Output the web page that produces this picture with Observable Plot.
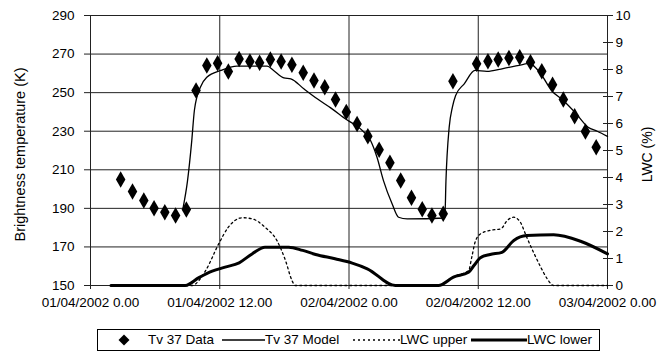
<!DOCTYPE html>
<html><head><meta charset="utf-8">
<script src="https://cdn.jsdelivr.net/npm/d3@7"></script>
<script src="https://cdn.jsdelivr.net/npm/@observablehq/plot@0.6"></script>
<style>
body{margin:0;background:#fff;font-family:"Liberation Sans",Arial,sans-serif;color:#000;}
#wrap{position:relative;width:667px;height:352px;overflow:hidden;}
#legend{position:absolute;left:97px;top:329px;width:503px;height:22px;border:1px solid #000;box-sizing:border-box;font-size:13.5px;}
.li{position:absolute;top:0;height:20px;line-height:20px;white-space:nowrap;}
.sw{position:absolute;top:0;}
</style>
</head><body>
<div id="wrap"><div id="chart"></div><div id="legend"></div></div>
<script>
// ---- data (hours after 01/04/2002 0.00) ----
const dataHours = [2.8,3.9,4.95,5.9,6.9,7.9,8.9,9.8,10.8,11.8,12.8,13.8,14.8,15.7,16.7,17.7,18.7,19.75,20.75,21.75,22.75,23.75,24.75,25.75,26.8,27.8,28.8,29.8,30.8,31.7,32.75,33.65,35.85,36.9,37.85,38.85,39.85,40.85,41.9,42.9,43.9,44.95,45.95,46.95];
const dataTemp  = [205.0,198.7,194.1,190.1,188.0,186.3,189.4,251.1,264.1,265.3,261.0,267.5,266.1,265.5,267.2,266.1,264.4,260.3,256.3,252.8,246.4,240.0,233.8,227.4,220.4,213.6,204.4,195.5,189.6,186.3,187.2,255.9,265.0,266.3,267.2,267.9,268.4,265.8,261.1,254.1,246.4,237.8,229.9,221.7];

const modelHours = [8.6,9.0,9.4,9.65,10.2,10.8,12.1,13.6,16.4,17.0,17.95,18.6,19.8,21.05,22.3,23.8,25.07,26.0,26.6,27.2,28.0,28.6,29.4,32.9,33.0,33.3,33.6,33.9,34.7,35.7,36.8,38.3,40.2,40.7,41.0,41.8,42.8,43.9,45.1,46.2,47.05,48];
const modelTemp  = [190.4,204,225,241,252.8,258,261.5,263.7,263.7,261.5,257.7,257.2,252,246.8,242.1,235.9,231.2,225.2,216.5,204.4,192.4,185.4,184.5,185,204,232,242.5,248.5,254.6,261.5,261,262.5,264.7,265.2,264.5,259.8,251.1,245.9,239,232.1,230,227.3];

const lwcUpperHours = [1.9,9.4,10.7,11.9,12.8,14.1,15.0,16.2,17.3,18.1,18.7,19.0,32.3,33.7,35.1,35.4,35.7,36.2,37.1,38.1,38.7,39.3,39.9,40.5,41.2,41.8,42.4,43.0,48];
const lwcUpper      = [0,0,0.56,1.54,2.16,2.51,2.47,2.16,1.67,0.93,0.19,0,0,0.33,0.55,1.05,1.6,1.91,2.04,2.1,2.41,2.53,2.35,1.79,1.17,0.68,0.25,0,0];

const lwcLowerHours = [1.9,8.8,10.06,11.3,12.5,13.8,15.0,16.2,18.4,19.7,20.9,22.7,24.3,25.7,28.3,32.3,33.7,35.1,35.6,36.2,37.1,38.2,39.3,40.5,43.0,45.5,48];
const lwcLower      = [0,0,0.29,0.53,0.68,0.84,1.17,1.42,1.42,1.30,1.15,0.99,0.83,0.62,0,0,0.31,0.49,0.74,1.03,1.15,1.23,1.67,1.85,1.88,1.64,1.17];

// ---- axes ----
const tempTicks = [150,170,190,210,230,250,270,290];
const lwcTicks = [0,1,2,3,4,5,6,7,8,9,10];
const xTickHours = [0,12,24,36,48];
const xTickLabels = ["01/04/2002 0.00","01/04/2002 12.00","02/04/2002 0.00","02/04/2002 12.00","03/04/2002 0.00"];
const leftTitle = "Brightness temperature (K)";
const rightTitle = "LWC (%)";
const seriesNames = ["Tv 37 Data","Tv 37 Model","LWC upper","LWC lower"];

const base = Date.UTC(2002,3,1);
const t = h => new Date(base + h*3600e3);
const tMin = 150, tMax = 290, lMax = 10;
const lwcToY = v => tMin + v*(tMax - tMin)/lMax;

const dataPts = dataHours.map((h,i)=>({x:t(h), y:dataTemp[i]}));
const modelPts = modelHours.map((h,i)=>({x:t(h), y:modelTemp[i]}));
const upPts = lwcUpperHours.map((h,i)=>({x:t(h), y:lwcToY(lwcUpper[i])}));
const loPts = lwcLowerHours.map((h,i)=>({x:t(h), y:lwcToY(lwcLower[i])}));
const xTicks = xTickHours.map(t);
const lwcTickY = lwcTicks.map(lwcToY);

const plot = Plot.plot({
  width: 667, height: 322,
  marginLeft: 90, marginRight: 60, marginTop: 15, marginBottom: 37,
  style: {fontFamily: "'Liberation Sans', Arial, sans-serif", fontSize: "13.5px", color: "#000", background: "#fff", overflow: "visible"},
  x: {type: "utc", domain: [t(0), t(48)]},
  y: {domain: [tMin, tMax]},
  marks: [
    Plot.ruleY(tempTicks, {stroke: "#222", strokeWidth: 1}),
    Plot.ruleX(xTicks, {stroke: "#222", strokeWidth: 1}),
    Plot.frame({stroke: "#222"}),
    Plot.axisY(tempTicks, {anchor: "left", tickSize: 6, tickPadding: 10, label: null, stroke: "#222"}),
    Plot.axisY(lwcTickY, {anchor: "right", tickSize: 5, tickPadding: 3, label: null, stroke: "#222",
      tickFormat: d => String(lwcTicks[lwcTickY.indexOf(d)])}),
    Plot.axisY(lwcTickY, {anchor: "right", tickSize: 5, dx: -5, label: null, stroke: "#222", tickFormat: () => ""}),
    Plot.axisX(xTicks, {anchor: "bottom", tickSize: 4, tickPadding: 8, label: null, stroke: "#222",
      tickFormat: d => xTickLabels[xTicks.findIndex(v => +v === +d)]}),
    Plot.text([leftTitle], {frameAnchor: "left", dx: -70, dy: 4, rotate: -90, textAnchor: "middle", text: d => d, fontSize: 14.5}),
    Plot.text([rightTitle], {frameAnchor: "right", dx: 40, dy: 4, rotate: -90, textAnchor: "middle", text: d => d, fontSize: 14}),
    Plot.line(upPts, {x: "x", y: "y", stroke: "#000", strokeWidth: 1.3, strokeDasharray: "2,3", curve: "monotone-x"}),
    Plot.line(loPts, {x: "x", y: "y", stroke: "#000", strokeWidth: 3, curve: "monotone-x"}),
    Plot.line(modelPts, {x: "x", y: "y", stroke: "#000", strokeWidth: 1.3, curve: "monotone-x"}),
    Plot.dot(dataPts, {x: "x", y: "y", symbol: "diamond", r: 5, fill: "#000", stroke: "none"})
  ]
});
document.getElementById("chart").appendChild(plot);

// ---- legend ----
const lg = document.getElementById("legend");
const ox = 98, oy = 330;
function sw(x0, w, svg){ const d=document.createElement("div"); d.className="sw"; d.style.left=(x0-ox)+"px"; d.innerHTML=`<svg width="${w}" height="20">${svg}</svg>`; lg.appendChild(d);}
function lab(x0, s){ const d=document.createElement("div"); d.className="li"; d.style.left=(x0-ox)+"px"; d.textContent=s; lg.appendChild(d);}
sw(118, 12, `<polygon points="6,4.5 11.5,10 6,15.5 0.5,10" fill="#000"/>`);
lab(148, seriesNames[0]);
sw(222, 43, `<line x1="0" x2="43" y1="10" y2="10" stroke="#000" stroke-width="1.3"/>`);
lab(265, seriesNames[1]);
sw(353, 47, `<line x1="0" x2="47" y1="10" y2="10" stroke="#000" stroke-width="1.3" stroke-dasharray="2,3"/>`);
lab(400, seriesNames[2]);
sw(471, 56, `<line x1="0" x2="56" y1="10" y2="10" stroke="#000" stroke-width="3"/>`);
lab(527, seriesNames[3]);
</script>
</body></html>
